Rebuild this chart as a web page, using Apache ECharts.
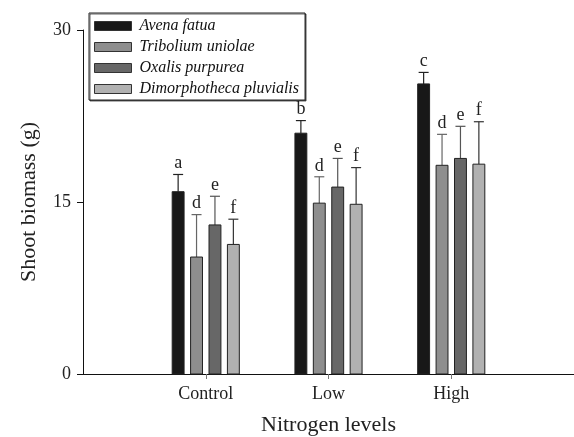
<!DOCTYPE html>
<html>
<head>
<meta charset="utf-8">
<script src="https://cdn.jsdelivr.net/npm/echarts@6/dist/echarts.min.js"></script>
<style>
  html, body { margin: 0; padding: 0; background: #fff; }
  #main { width: 574px; height: 437px; }
</style>
</head>
<body>
<div id="main"></div>
<script>
// nitrogen levels (x positions 1..3 on the axis)
var levels = ['Control', 'Low', 'High'];
var species = ['Avena fatua', 'Tribolium uniolae', 'Oxalis purpurea', 'Dimorphotheca pluvialis'];

// mean shoot biomass (g), one array per species
var avena = [15.9, 21.0, 25.3];
var tribolium = [10.2, 14.9, 18.2];
var oxalis = [13.0, 16.3, 18.8];
var dimorph = [11.3, 14.8, 18.3];

// error (upper bar length)
var avenaErr = [1.5, 1.1, 1.0];
var triboliumErr = [3.7, 2.3, 2.7];
var oxalisErr = [2.5, 2.5, 2.8];
var dimorphErr = [2.2, 3.2, 3.7];

// significance letters
var avenaLetters = ['a', 'b', 'c'];
var triboliumLetters = ['d', 'd', 'd'];
var oxalisLetters = ['e', 'e', 'e'];
var dimorphLetters = ['f', 'f', 'f'];

var yTicks = [0, 15, 30];

var FONT = '"Liberation Serif", "Times New Roman", serif';
var colors = ['#181818', '#8e8e8e', '#676767', '#b1b1b1'];
var errColors = ['#222', '#666', '#555', '#333'];
var offsets = [-0.225, -0.075, 0.075, 0.225];
var barFrac = 0.097;

var means = [avena, tribolium, oxalis, dimorph];
var errs = [avenaErr, triboliumErr, oxalisErr, dimorphErr];
var letters = [avenaLetters, triboliumLetters, oxalisLetters, dimorphLetters];

// bars + upper error bar + letter, drawn on the value axes
function makeSeries (k) {
  return {
    name: species[k],
    type: 'custom',
    itemStyle: { color: colors[k] },
    data: levels.map(function (l, i) { return [i + 1, means[k][i], errs[k][i]] }),
    renderItem: function (params, api) {
      var x = api.value(0), v = api.value(1), e = api.value(2)
      var base = api.coord([x, 0])
      var top = api.coord([x, v])
      var errTop = api.coord([x, v + e])
      var unit = api.size([1, 0])[0]
      var cx = base[0] + offsets[k] * unit
      var w = barFrac * unit
      return {
        type: 'group',
        children: [
          { type: 'line', shape: { x1: cx, y1: top[1], x2: cx, y2: errTop[1] }, style: { stroke: errColors[k], lineWidth: 1.2 } },
          { type: 'line', shape: { x1: cx - 5, y1: errTop[1], x2: cx + 5, y2: errTop[1] }, style: { stroke: errColors[k], lineWidth: 1.2 } },
          { type: 'rect', shape: { x: cx - w / 2, y: top[1], width: w, height: base[1] - top[1] }, style: { fill: colors[k], stroke: '#222', lineWidth: 1 } },
          { type: 'text', x: cx, y: errTop[1] - 2, style: { text: letters[k][params.dataIndex], fill: '#222', font: '18px ' + FONT, align: 'center', verticalAlign: 'bottom' } }
        ]
      }
    }
  }
}

var chart = echarts.init(document.getElementById('main'))
chart.setOption({
  animation: false,
  textStyle: { fontFamily: FONT },
  grid: { left: 83, right: 0, top: 30, bottom: 63, outerBoundsMode: 'none', containLabel: false },
  legend: {
    orient: 'vertical',
    left: 89,
    top: 13,
    padding: [5, 6, 3, 5],
    itemGap: 5,
    itemWidth: 37,
    itemHeight: 9,
    borderColor: '#222',
    borderWidth: 1,
    backgroundColor: '#fff',
    shadowColor: 'rgba(0,0,0,0.6)',
    shadowOffsetX: 1,
    shadowOffsetY: 1,
    icon: 'rect',
    data: species.map(function (s, k) {
      return { name: s, itemStyle: { color: colors[k], borderColor: '#333', borderWidth: 1 } }
    }),
    textStyle: { fontFamily: FONT, fontStyle: 'italic', fontSize: 16, color: '#111', lineHeight: 16, padding: [0, 0, 0, 3] }
  },
  xAxis: {
    type: 'value',
    min: 0,
    max: 4,
    interval: 1,
    name: 'Nitrogen levels',
    nameLocation: 'middle',
    nameGap: 40,
    nameTextStyle: { fontFamily: FONT, fontSize: 22, color: '#222' },
    splitLine: { show: false },
    axisLine: { show: true, lineStyle: { color: '#111', width: 1 } },
    axisTick: { show: true, length: 5, customValues: [1, 2, 3], lineStyle: { color: '#777' } },
    axisLabel: {
      customValues: [1, 2, 3],
      margin: 11,
      fontFamily: FONT,
      fontSize: 18,
      color: '#222',
      formatter: function (v) { return levels[v - 1] || '' }
    }
  },
  yAxis: {
    type: 'value',
    min: 0,
    max: 30,
    interval: 15,
    name: 'Shoot biomass (g)',
    nameLocation: 'middle',
    nameGap: 43,
    nameTextStyle: { fontFamily: FONT, fontSize: 22, color: '#222' },
    splitLine: { show: false },
    axisLine: { show: true, lineStyle: { color: '#111', width: 1 } },
    axisTick: { show: true, length: 6, customValues: yTicks, lineStyle: { color: '#111' } },
    axisLabel: { customValues: yTicks, margin: 12, fontFamily: FONT, fontSize: 18, color: '#222' }
  },
  series: [0, 1, 2, 3].map(makeSeries)
})
</script>
</body>
</html>
